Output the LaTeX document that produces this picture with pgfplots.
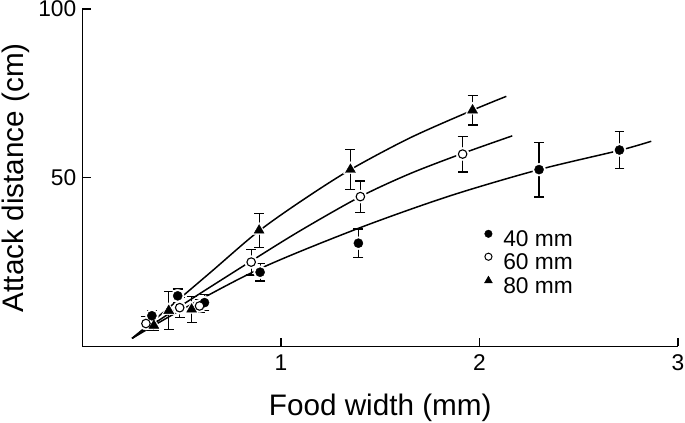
\documentclass[border=0pt]{standalone}
\usepackage{fontspec}
\setmainfont{Liberation Sans}
\usepackage{pgfplots}
\usepackage{pgfplotstable}
\pgfplotsset{compat=1.18}

% data: x  y  err
\pgfplotstableread{
x y e
0.35 9.1 1.5
0.48 15.0 2.0
0.615 13.0 2.4
0.895 22.0 2.6
1.39 30.6 4.2
2.30 52.4 8.1
2.705 58.2 5.5
}\dataA
\pgfplotstableread{
x y e
0.32 6.8 2.0
0.49 11.5 3.0
0.59 12.0 2.0
0.85 25.0 3.8
1.40 44.4 4.6
1.915 57.0 5.3
}\dataB
\pgfplotstableread{
x y e
0.36 6.2 1.5
0.435 10.6 5.6
0.55 11.0 3.8
0.89 34.4 5.0
1.35 52.4 6.0
1.965 70.0 4.4
}\dataC

\begin{document}
\begin{tikzpicture}[x=1bp,y=1bp]
\useasboundingbox (-83,-77) rectangle (607,349);
\begin{axis}[
  at={(0,0)}, anchor=south west,
  width=600bp, height=340bp, scale only axis,
  xmin=0, xmax=3, ymin=0, ymax=100,
  axis x line*=bottom, axis y line*=left,
  axis line style={line width=1.2bp, black},
  xtick={1,2,3}, ytick={50,100},
  tick align=inside, major tick length=9bp,
  tick style={line width=1.2bp, black},
  /pgf/number format/assume math mode=true,
  tick label style={font=\fontsize{23}{23}\selectfont, inner sep=0pt},
  xticklabel style={yshift=-8bp},
  yticklabel style={xshift=-6bp},
  xlabel={Food width (mm)}, ylabel={Attack distance (cm)},
  label style={font=\fontsize{30}{30}\selectfont},
  xlabel style={at={(axis description cs:0.5,-0.2044)}, anchor=base},
  ylabel style={at={(axis description cs:-0.0983,0.5)}, anchor=base, rotate=0},
  legend image code/.code={\path[draw=none,fill=none] (-4bp,0bp) rectangle (4bp,1bp); \path[#1, draw=none] plot coordinates {(0bp,8bp)};},
  legend style={draw=none, fill=none, font=\fontsize{23}{24}\selectfont,
    inner sep=0pt, outer sep=0pt, row sep=0pt, column sep=11bp,
    nodes={inner sep=0pt, text height=16bp, text depth=7bp},
    at={(axis description cs:0.675,0.345)}, anchor=north west},
  legend cell align=left,
]
% fitted curves
\addplot[black, line width=1.5bp, smooth, forget plot] coordinates {
(0.25,2.4)(0.45,12.2)(0.65,22.2)(0.88,33.8)(1.1,43.0)(1.35,52.4)(1.65,61.8)(1.965,70.0)(2.135,74.1)};
\addplot[black, line width=1.5bp, smooth, forget plot] coordinates {
(0.25,2.4)(0.5,12.2)(0.85,25.3)(1.1,34.4)(1.40,44.4)(1.65,51.2)(1.915,57.2)(2.165,62.4)};
\addplot[black, line width=1.5bp, smooth, forget plot] coordinates {
(0.25,2.4)(0.5,10.9)(0.9,23.2)(1.39,35.0)(1.85,44.6)(2.30,52.4)(2.705,58.1)(2.865,60.8)};
% white halos
\addplot[only marks, mark=*, mark size=6.5bp, white, forget plot] table[x=x,y=y] {\dataA};
\addplot[only marks, mark=*, mark size=6.5bp, white, forget plot] table[x=x,y=y] {\dataB};
\addplot[only marks, mark=triangle*, mark size=8bp, white, forget plot] table[x=x,y=y] {\dataC};
% data with error bars
\addplot[black, only marks, mark=*, mark size=4.6bp, forget plot,
  error bars/.cd, y dir=both, y explicit,
  error bar style={line width=1.2bp, black},
  error mark options={black, line width=1.2bp, mark size=5bp, rotate=90}]
  table[x=x, y=y, y error=e] {\dataA};
\addplot[black, only marks, mark=*, mark size=4.3bp, mark options={fill=white, draw=black, line width=1.1bp}, forget plot,
  error bars/.cd, y dir=both, y explicit,
  error bar style={line width=1.2bp, black},
  error mark options={black, line width=1.2bp, mark size=5bp, rotate=90}]
  table[x=x, y=y, y error=e] {\dataB};
\addplot[black, only marks, mark=triangle*, mark size=5.8bp, forget plot,
  error bars/.cd, y dir=both, y explicit,
  error bar style={line width=1.2bp, black},
  error mark options={black, line width=1.2bp, mark size=5bp, rotate=90}]
  table[x=x, y=y, y error=e] {\dataC};
% legend
\addlegendimage{black, only marks, mark=*, mark size=3.8bp}
\addlegendentry{40 mm}
\addlegendimage{black, only marks, mark=*, mark size=3.6bp, mark options={fill=white, draw=black, line width=1bp}}
\addlegendentry{60 mm}
\addlegendimage{black, only marks, mark=triangle*, mark size=4.6bp}
\addlegendentry{80 mm}
\end{axis}
\end{tikzpicture}
\end{document}
